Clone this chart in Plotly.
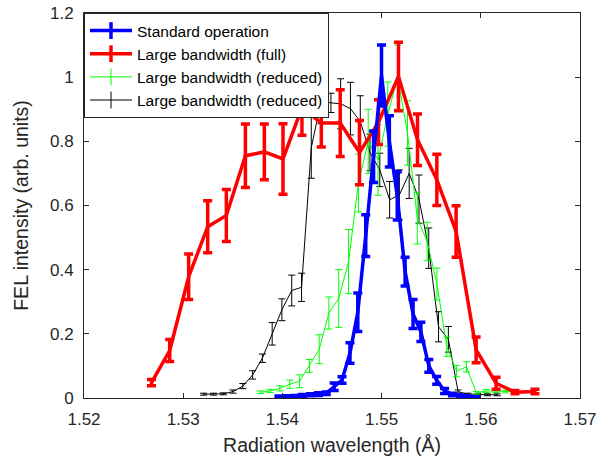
import plotly.graph_objects as go

# ---------------- data ----------------
std_x = [1.53965, 1.54045, 1.54124, 1.54204, 1.54283, 1.54363, 1.54442, 1.54522,
         1.54601, 1.54681, 1.54760, 1.54840, 1.54919, 1.54999, 1.55078, 1.55158,
         1.55237, 1.55317, 1.55396, 1.55476, 1.55555, 1.55635, 1.55714, 1.55794,
         1.55873, 1.55953]
std_y = [0.004, 0.005, 0.006, 0.008, 0.010, 0.012, 0.015, 0.035,
         0.056, 0.140, 0.267, 0.506, 0.752, 1.005, 0.800, 0.630,
         0.394, 0.262, 0.206, 0.100, 0.055, 0.022, 0.011, 0.006,
         0.004, 0.002]
std_e = [0.002, 0.002, 0.002, 0.003, 0.003, 0.004, 0.004, 0.012,
         0.010, 0.032, 0.060, 0.065, 0.080, 0.095, 0.080, 0.075,
         0.045, 0.045, 0.030, 0.020, 0.012, 0.008, 0.004, 0.003,
         0.002, 0.002]

full_x = [1.52680, 1.52864, 1.53055, 1.53247, 1.53435, 1.53627, 1.53818, 1.54006,
          1.54197, 1.54392, 1.54583, 1.54777, 1.54969, 1.55170, 1.55362, 1.55557,
          1.55751, 1.55953, 1.56154, 1.56345, 1.56546]
full_y = [0.048, 0.148, 0.378, 0.534, 0.569, 0.755, 0.767, 0.745,
          0.905, 0.857, 0.857, 0.765, 0.860, 1.002, 0.805, 0.680,
          0.519, 0.150, 0.046, 0.018, 0.020]
full_e = [0.010, 0.034, 0.071, 0.081, 0.081, 0.099, 0.087, 0.110,
          0.086, 0.075, 0.104, 0.100, 0.070, 0.107, 0.080, 0.080,
          0.080, 0.040, 0.019, 0.005, 0.007]

red1_x = [1.53777, 1.53876, 1.53975, 1.54074, 1.54173, 1.54272, 1.54371, 1.54469,
          1.54568, 1.54667, 1.54766, 1.54865, 1.54964, 1.55063, 1.55162, 1.55261,
          1.55360, 1.55459, 1.55558, 1.55657, 1.55756, 1.55855, 1.55954, 1.56053,
          1.56152, 1.56251, 1.56350]
red1_y = [0.018, 0.022, 0.030, 0.043, 0.052, 0.100, 0.152, 0.265,
          0.310, 0.425, 0.670, 0.800, 0.742, 0.885, 1.000, 0.826,
          0.560, 0.488, 0.355, 0.160, 0.084, 0.097, 0.016, 0.022,
          0.022, 0.020, 0.020]
red1_e = [0.004, 0.005, 0.008, 0.013, 0.020, 0.020, 0.045, 0.050,
          0.090, 0.100, 0.090, 0.100, 0.110, 0.100, 0.100, 0.100,
          0.080, 0.060, 0.050, 0.030, 0.018, 0.016, 0.004, 0.005,
          0.005, 0.004, 0.004]

red2_x = [1.53206, 1.53305, 1.53404, 1.53502, 1.53601, 1.53700, 1.53798, 1.53897,
          1.53995, 1.54094, 1.54193, 1.54291, 1.54390, 1.54489, 1.54587, 1.54686,
          1.54785, 1.54883, 1.54982, 1.55081, 1.55179, 1.55278, 1.55377, 1.55475,
          1.55574, 1.55673, 1.55771, 1.55870, 1.55969, 1.56067, 1.56166]
red2_y = [0.012, 0.012, 0.013, 0.020, 0.037, 0.072, 0.124, 0.200,
          0.275, 0.335, 0.345, 0.780, 0.925, 0.920, 0.917, 0.902,
          0.862, 0.765, 0.711, 0.618, 0.633, 0.700, 0.620, 0.467,
          0.222, 0.183, 0.020, 0.012, 0.010, 0.010, 0.010]
red2_e = [0.003, 0.003, 0.003, 0.005, 0.008, 0.013, 0.013, 0.035,
          0.034, 0.048, 0.044, 0.095, 0.070, 0.030, 0.078, 0.082,
          0.080, 0.057, 0.052, 0.057, 0.078, 0.078, 0.075, 0.063,
          0.047, 0.040, 0.005, 0.003, 0.003, 0.003, 0.003]

names = ["Standard operation", "Large bandwidth (full)",
         "Large bandwidth (reduced)", "Large bandwidth (reduced)"]
colors = ["#0000ff", "#ff0000", "#00ff00", "#000000"]
widths = [3.5, 3.5, 1, 1]
xticks = [1.52, 1.53, 1.54, 1.55, 1.56, 1.57]
yticks = [0, 0.2, 0.4, 0.6, 0.8, 1.0, 1.2]
yticklabels = ["0", "0.2", "0.4", "0.6", "0.8", "1", "1.2"]

series = [(std_x, std_y, std_e), (full_x, full_y, full_e),
          (red1_x, red1_y, red1_e), (red2_x, red2_y, red2_e)]
draw_order = [3, 2, 1, 0]  # thin ones underneath, blue on top

fig = go.Figure()
for i in draw_order:
    xs, ys, es = series[i]
    fig.add_trace(go.Scatter(
        x=xs, y=ys, mode="lines", showlegend=False,
        line=dict(color=colors[i], width=widths[i]),
        error_y=dict(type="data", array=es, visible=True, color=colors[i],
                     thickness=widths[i], width=4.5 if widths[i] > 1 else 3.5),
    ))

# legend entries (line with vertical error-bar glyph)
for i in range(4):
    fig.add_trace(go.Scatter(
        x=[None], y=[None], mode="lines+markers", name=names[i],
        line=dict(color=colors[i], width=widths[i]),
        marker=dict(symbol="line-ns-open", size=12,
                    line=dict(color=colors[i], width=widths[i])),
    ))

axis_col = "#262626"
fig.update_layout(
    width=611, height=469,
    margin=dict(l=84, r=31, t=13, b=71),
    paper_bgcolor="white", plot_bgcolor="white",
    font=dict(family="Liberation Sans, Arial, sans-serif", size=17, color=axis_col),
    legend=dict(x=0, y=1, xanchor="left", yanchor="top",
                bgcolor="white", bordercolor=axis_col, borderwidth=1,
                font=dict(size=15.5, color="#000000"), itemwidth=42,
                tracegroupgap=0),
    xaxis=dict(range=[1.52, 1.57], tickvals=xticks, ticktext=[f"{v:.2f}" for v in xticks],
               ticks="inside", ticklen=5, tickcolor=axis_col, showline=True,
               linecolor=axis_col, linewidth=1, mirror="ticks", showgrid=False,
               zeroline=False, ticklabelstandoff=6, automargin=False,
               title=dict(text="Radiation wavelength (Å)", font=dict(size=19.5),
                          standoff=9)),
    yaxis=dict(range=[0, 1.2], tickvals=yticks, ticktext=yticklabels,
               ticks="inside", ticklen=5, tickcolor=axis_col, showline=True,
               linecolor=axis_col, linewidth=1, mirror="ticks", showgrid=False,
               zeroline=False, ticklabelstandoff=6, automargin=False,
               title=dict(text="FEL intensity (arb. units)", font=dict(size=19.5),
                          standoff=16)),
)

fig.write_html("out.html")
